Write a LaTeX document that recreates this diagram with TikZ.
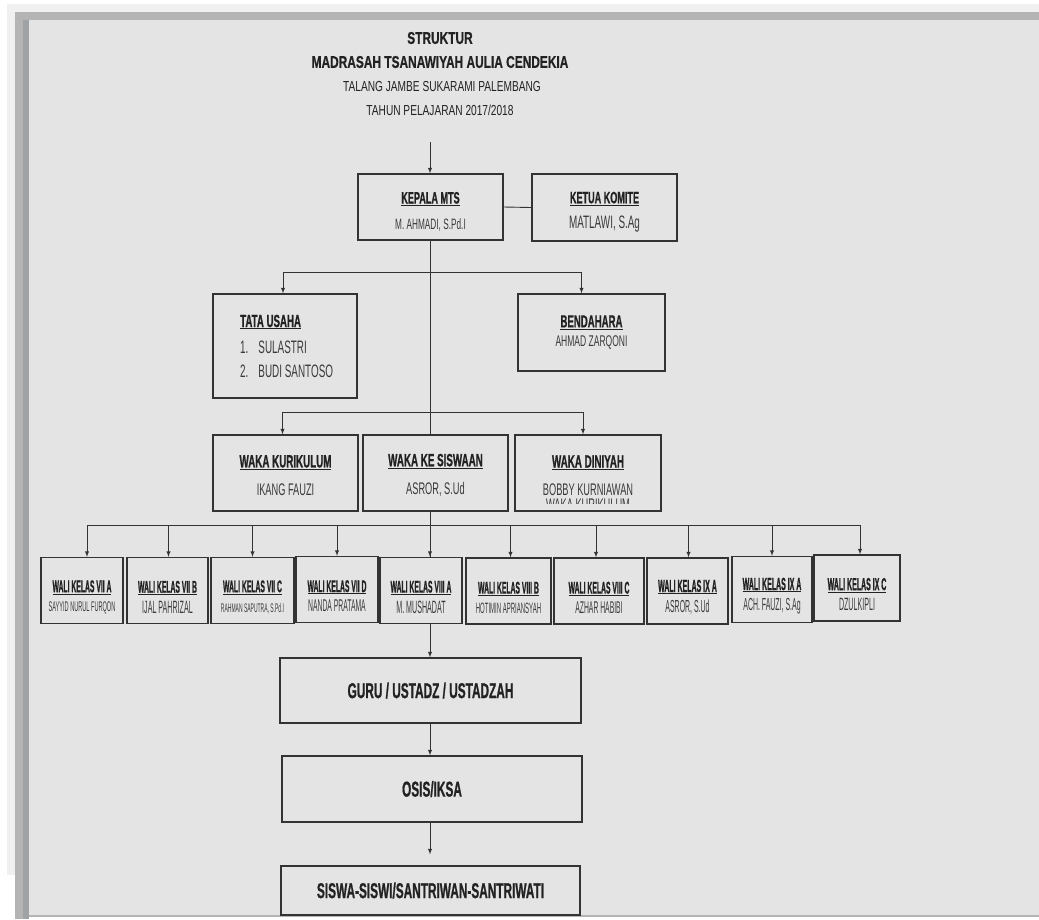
\documentclass[tikz,border=0pt]{standalone}
\usepackage{fontspec}
\setmainfont{Liberation Sans}[FakeStretch=0.7, BoldFeatures={FakeBold=0.6}]
\newfontfamily\boxfont{Liberation Sans}[FakeStretch=0.55, BoldFeatures={FakeBold=0.8}]
\newfontfamily\condfont{Liberation Sans}[FakeStretch=0.4, BoldFeatures={FakeBold=0.8}]
\usepackage{xcolor}
\usepackage{tikz}
\usetikzlibrary{calc, positioning}

\definecolor{paper}{HTML}{E4E4E4}
\definecolor{framelight}{HTML}{F0F0F0}
\definecolor{framegray}{HTML}{B4B4B4}
\definecolor{framedark}{HTML}{A0A3A6}
\definecolor{boxline}{HTML}{333333}
\definecolor{inktext}{HTML}{222222}
\definecolor{nametext}{HTML}{3A3A3A}

\newcommand{\hd}[1]{\textbf{\underline{#1}}}
\newcommand{\hdr}[2]{\rule{0pt}{#1pt}\textbf{\underline{#2}}}
\newcommand{\fs}[1]{\fontsize{#1}{#1}\selectfont}

\tikzset{
  box/.style={draw=boxline, line width=1.3pt, inner sep=1pt, align=center, text=inktext, font=\boxfont},
  link/.style={draw=boxline, line width=0.9pt},
  titletext/.style={text=inktext, inner sep=0pt},
  walibox/.style={box, minimum height=66, font=\condfont},
}

\begin{document}
\begin{tikzpicture}[x=1pt, y=-1pt, >=latex]
    \useasboundingbox (0,0) rectangle (1039,919);

    % 1. Khung nền (background frame)
    \fill[white] (0,0) rectangle (1039,919);
    \fill[framelight] (7,4) rectangle (1039,875);
    \fill[framegray] (15,12) rectangle (1039,20);
    \fill[framegray] (15,12) rectangle (29,919);
    \fill[framedark] (23,20) rectangle (29,919);
    \fill[paper] (29,20) rectangle (1039,915);
    \fill[framegray] (29,915) rectangle (1039,917);

    % 2. Judul
    \node[titletext, font=\bfseries\fs{17}] (title1) at (440,38) {STRUKTUR};
    \node[titletext, font=\bfseries\fs{17}] (title2) at (440,62) {MADRASAH TSANAWIYAH AULIA CENDEKIA};
    \node[titletext, font=\fs{14.5}] (title3) at (442,87) {TALANG JAMBE SUKARAMI PALEMBANG};
    \node[titletext, font=\fs{14.5}] (title4) at (440,110) {TAHUN PELAJARAN 2017/2018};

    % 3. Kepala dan komite
    \coordinate (spine) at (430,0);
    \coordinate (top) at (430,142);
    \node[box, minimum width=145, minimum height=66] (kepala) at (430.5,207)
      {{\fs{16.5}\hdr{21}{KEPALA MTS}}\\[12pt]{\fs{15}\color{nametext}M. AHMADI, S.Pd.I}};
    \node[box, minimum width=145, minimum height=67] (komite) at (604.5,207.5)
      {{\fs{16.5}\hdr{20}{KETUA KOMITE}}\\[9pt]{\fs{18}\color{nametext}MATLAWI, S.Ag}};

    % 4. Tata usaha dan bendahara
    \node[box, minimum width=144, minimum height=104] (tatausaha) at (285,346) {};
    \node[anchor=west, align=left, inner sep=0pt, text=inktext, font=\boxfont\fs{18}] (tatausahatxt) at (240,346)
      {{\fs{17.6}\hd{TATA USAHA}}\\[8pt]{\color{nametext}1.\hspace{10pt}SULASTRI}\\[6pt]{\color{nametext}2.\hspace{10pt}BUDI SANTOSO}};
    \node[box, minimum width=147, minimum height=77] (bendahara) at (591.5,332.5)
      {{\fs{17.5}\hd{BENDAHARA}}\\[5.5pt]{\fs{15.5}\color{nametext}AHMAD ZARQONI}};

    % 5. Waka
    \node[box, minimum width=145, minimum height=76] (wakakur) at (285.5,473)
      {{\fs{17.8}\hdr{17}{WAKA KURIKULUM}}\\[13pt]{\fs{16.8}\color{nametext}IKANG FAUZI}};
    \node[box, minimum width=145, minimum height=76] (wakasis) at (435.5,473)
      {{\fs{17.8}\hdr{17}{WAKA KE SISWAAN}}\\[13pt]{\fs{16.8}\color{nametext}ASROR, S.Ud}};
    \node[box, minimum width=146, minimum height=76] (wakadin) at (588,473)
      {{\fs{17.8}\hdr{17}{WAKA DINIYAH}}\\[13pt]{\fs{16.8}\color{nametext}BOBBY KURNIAWAN}};
    \begin{scope}
      \clip (516,496) rectangle (660,503);
      \node[inner sep=0pt, text=nametext, font=\boxfont\fs{16.8}] (wakadinextra) at (588,505) {WAKA KURIKULUM};
    \end{scope}

    % 6. Wali kelas
    \node[walibox, minimum width=82] (wali1) at (82,590.5)
      {{\fs{17}\hdr{25}{WALI KELAS VII A}}\\[7pt]{\fs{14}\color{nametext}SAYYID NURUL FURQON}};
    \node[walibox, minimum width=81] (wali2) at (167.5,590.5)
      {{\fs{17}\hdr{25}{WALI KELAS VII B}}\\[5pt]{\fs{17.8}\color{nametext}IJAL PAHRIZAL}};
    \node[walibox, minimum width=83] (wali3) at (252.5,590.5)
      {{\fs{17}\hdr{25}{WALI KELAS VII C}}\\[8pt]{\fs{12.5}\color{nametext}RAHMAN SAPUTRA, S.Pd.I}};
    \node[walibox, minimum width=82] (wali4) at (337,589.5)
      {{\fs{17}\hdr{25}{WALI KELAS VII D}}\\[5pt]{\fs{17}\color{nametext}NANDA PRATAMA}};
    \node[walibox, minimum width=82] (wali5) at (421,590.5)
      {{\fs{17}\hdr{25}{WALI KELAS VIII A}}\\[5pt]{\fs{17.8}\color{nametext}M. MUSHADAT}};
    \node[walibox, minimum width=85] (wali6) at (508.5,591)
      {{\fs{17}\hdr{25}{WALI KELAS VIII B}}\\[6pt]{\fs{15}\color{nametext}HOTIMIN APRIANSYAH}};
    \node[walibox, minimum width=90] (wali7) at (599,591)
      {{\fs{17}\hdr{25}{WALI KELAS VIII C}}\\[5pt]{\fs{17}\color{nametext}AZHAR HABIBI}};
    \node[walibox, minimum width=81] (wali8) at (687.5,591)
      {{\fs{17.5}\hdr{25}{WALI KELAS IX A}}\\[5pt]{\fs{17.4}\color{nametext}ASROR, S.Ud}};
    \node[walibox, minimum width=80] (wali9) at (772,589.5)
      {{\fs{17.5}\hdr{25}{WALI KELAS IX A}}\\[5pt]{\fs{17.4}\color{nametext}ACH. FAUZI, S.Ag}};
    \node[walibox, minimum width=86] (wali10) at (857,588)
      {{\fs{17.5}\hdr{25}{WALI KELAS IX C}}\\[5pt]{\fs{17.8}\color{nametext}DZULKIPLI}};

    % 7. Guru, OSIS, siswa
    \node[box, minimum width=301, minimum height=65, font=\boxfont\bfseries\fs{21.5}] (guru) at (430.5,690.5) {GURU / USTADZ / USTADZAH};
    \node[box, minimum width=300, minimum height=66, font=\boxfont\bfseries\fs{21.5}] (osis) at (432,789) {OSIS/IKSA};
    \node[box, minimum width=299, minimum height=49, font=\boxfont\bfseries\fs{21.5}] (siswa) at (430.5,890.5) {SISWA-SISWI/SANTRIWAN-SANTRIWATI};

    % 8. Garis penghubung
    \draw[link,->] (top) -- (kepala.north -| spine);
    \draw[link] (kepala.east) -- (komite.west);
    \draw[link] (kepala.south -| spine) -- (wakasis.north -| spine);

    \coordinate (barA) at (430,272);
    \draw[link,->] (barA) -| ([xshift=-2pt]tatausaha.north);
    \draw[link,->] (barA) -| ([xshift=-10pt]bendahara.north);

    \coordinate (barB) at (430,412);
    \draw[link,->] (barB) -| ([xshift=-3pt]wakakur.north);
    \draw[link,->] (barB) -| ([xshift=-5pt]wakadin.north);

    \coordinate (barC) at (430,525);
    \draw[link] (wakasis.south -| spine) -- (wali5.north -| spine);
    \draw[link] ([xshift=5pt]wali1.north |- barC) -- ([xshift=3pt]wali10.north |- barC);
    \draw[link,->] (wali5.north -| spine) ++(0,-30) -- (wali5.north -| spine);
    \draw[link,->] ([xshift=5pt]wali1.north |- barC) -- ([xshift=5pt]wali1.north);
    \draw[link,->] ([xshift=1pt]wali2.north |- barC) -- ([xshift=1pt]wali2.north);
    \draw[link,->] (wali3.north |- barC) -- (wali3.north);
    \draw[link,->] (wali4.north |- barC) -- (wali4.north);
    \draw[link,->] ([xshift=2pt]wali6.north |- barC) -- ([xshift=2pt]wali6.north);
    \draw[link,->] ([xshift=-3pt]wali7.north |- barC) -- ([xshift=-3pt]wali7.north);
    \draw[link,->] ([xshift=1pt]wali8.north |- barC) -- ([xshift=1pt]wali8.north);
    \draw[link,->] (wali9.north |- barC) -- (wali9.north);
    \draw[link,->] ([xshift=3pt]wali10.north |- barC) -- ([xshift=3pt]wali10.north);

    \draw[link,->] (wali5.south -| spine) -- (guru.north -| spine);
    \draw[link,->] (guru.south -| spine) -- (osis.north -| spine);
    \draw[link,->] (osis.south -| spine) -- ([yshift=11pt]siswa.north -| spine);
\end{tikzpicture}
\end{document}
